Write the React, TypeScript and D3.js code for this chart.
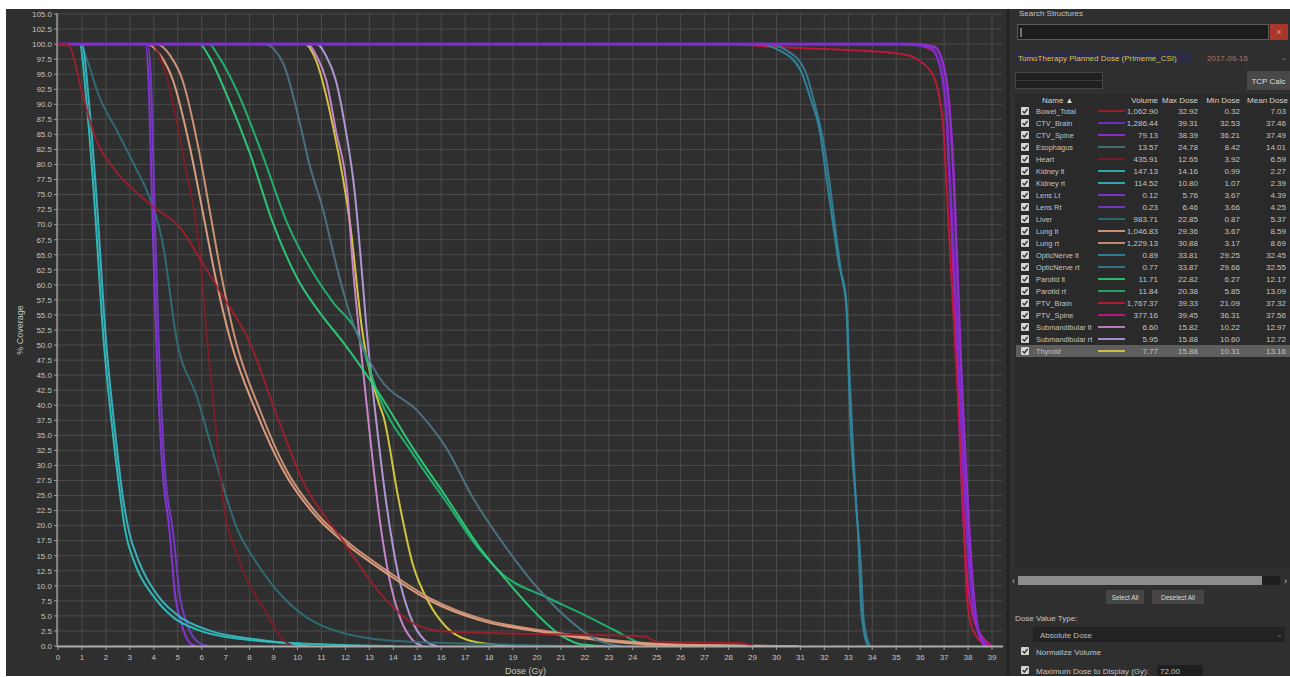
import React from 'react';
import * as d3 from 'd3';

type Pt = [number, number];

// Structure table (right panel)
const structureNames = [
  'Bowel_Total', 'CTV_Brain', 'CTV_Spine', 'Esophagus', 'Heart', 'Kidney lt', 'Kidney rt',
  'Lens Lt', 'Lens Rt', 'Liver', 'Lung lt', 'Lung rt', 'OpticNerve lt', 'OpticNerve rt',
  'Parotid lt', 'Parotid rt', 'PTV_Brain', 'PTV_Spine', 'Submandibular lt', 'Submandibular rt', 'Thyroid',
];
const structureColors = [
  '#a01e2a', '#7b2fd6', '#9a2bd8', '#4d7585', '#7e1c28', '#2ec4c0', '#3bb8c8',
  '#8a35e0', '#7a3ad0', '#2f6f7a', '#e8a584', '#d99a7a', '#2e8aa0', '#3a7f98',
  '#2ad07a', '#1fb870', '#c8163a', '#d0148c', '#d28ad8', '#b8a0e0', '#e0d040',
];
const volumes = ['1,062.90', '1,286.44', '79.13', '13.57', '435.91', '147.13', '114.52', '0.12', '0.23', '983.71', '1,046.83', '1,229.13', '0.89', '0.77', '11.71', '11.84', '1,767.37', '377.16', '6.60', '5.95', '7.77'];
const maxDoses = ['32.92', '39.31', '38.39', '24.78', '12.65', '14.16', '10.80', '5.76', '6.46', '22.85', '29.36', '30.88', '33.81', '33.87', '22.82', '20.38', '39.33', '39.45', '15.82', '15.88', '15.88'];
const minDoses = ['0.32', '32.53', '36.21', '8.42', '3.92', '0.99', '1.07', '3.67', '3.66', '0.87', '3.67', '3.17', '29.25', '29.66', '6.27', '5.85', '21.09', '36.31', '10.22', '10.60', '10.31'];
const meanDoses = ['7.03', '37.46', '37.49', '14.01', '6.59', '2.27', '2.39', '4.39', '4.25', '5.37', '8.59', '8.69', '32.45', '32.55', '12.17', '13.09', '37.32', '37.56', '12.97', '12.72', '13.16'];

// DVH curves: [dose Gy, % coverage]
const bowelTotal: Pt[] = [[0, 100], [0.3, 100], [0.5, 99.5], [1.0, 92], [1.6, 84], [2.4, 79], [3.8, 73.5], [5.2, 69], [5.9, 64.5], [6.9, 58], [8.0, 50.5], [9.1, 38.7], [10.2, 27.6], [11.8, 18], [13.6, 8.1], [14.8, 3.8], [16.2, 2.4], [20, 2.0], [24.5, 1.6], [25.0, 0.7], [28.5, 0.5], [29, 0]];
const ctvBrain: Pt[] = [[0, 100], [35.3, 100], [36.4, 99.5], [36.8, 96.8], [37.1, 88.5], [37.2, 80], [37.35, 69], [37.6, 47], [37.8, 30.4], [37.95, 19.3], [38.1, 11], [38.35, 3.8], [38.8, 0]];
const ctvSpine: Pt[] = [[0, 100], [35.8, 100], [36.6, 99.5], [37.0, 96], [37.25, 88], [37.4, 78], [37.5, 68], [37.7, 47], [37.9, 30], [38.05, 19], [38.2, 10], [38.4, 3], [38.7, 0]];
const esophagus: Pt[] = [[0, 100], [8.6, 100], [9.4, 96.8], [10.0, 88.5], [10.5, 80], [11.1, 72], [11.6, 63.6], [12.2, 55], [12.8, 49], [13.4, 44.7], [15.1, 38.7], [16.2, 33], [17.3, 24.8], [18.7, 16.4], [20.1, 9.3], [21.5, 3.8], [22.5, 1], [23.5, 0]];
const heart: Pt[] = [[0, 100], [3.9, 100], [4.5, 95], [5.3, 80], [5.9, 66], [6.2, 52], [6.6, 36], [6.9, 24], [7.5, 15], [8.7, 5.5], [9.4, 1], [9.8, 0]];
const kidneyLt: Pt[] = [[0, 100], [0.9, 100], [1.2, 90], [1.5, 75], [1.9, 51], [2.3, 35], [2.6, 25], [2.8, 19.3], [3.2, 13.8], [4.0, 8.2], [4.8, 4.8], [5.9, 2.6], [8.0, 1], [11, 0.3], [14, 0]];
const kidneyRt: Pt[] = [[0, 100], [1.0, 100], [1.3, 90], [1.6, 75], [2.0, 51], [2.4, 35], [2.7, 25], [2.95, 19.3], [3.4, 13.8], [4.2, 8.2], [5.1, 4.8], [6.3, 2.6], [8.5, 1], [10.5, 0]];
const lensLt: Pt[] = [[0, 100], [3.65, 100], [3.8, 92], [3.95, 70], [4.1, 51], [4.35, 30], [4.65, 19.3], [4.9, 8.1], [5.15, 3.8], [5.5, 0.5], [5.76, 0]];
const lensRt: Pt[] = [[0, 100], [3.75, 100], [3.9, 92], [4.05, 70], [4.2, 51], [4.45, 30], [4.8, 19], [5.1, 8], [5.4, 3.5], [5.9, 0.5], [6.3, 0]];
const liver: Pt[] = [[0, 100], [0.9, 100], [1.05, 99], [1.75, 91], [2.45, 85.7], [3.3, 79], [3.7, 75.7], [4.4, 66.3], [4.95, 51], [5.8, 41.4], [6.6, 30.4], [7.5, 19.3], [8.3, 13.8], [9.4, 8.1], [10.8, 3.8], [13.6, 1], [17, 0.4], [22, 0]];
const lungLt: Pt[] = [[0, 100], [3.7, 100], [4.3, 98], [4.8, 94], [5.5, 83], [6.05, 72], [6.6, 60.8], [7.2, 50.8], [8.3, 38.7], [9.4, 29.2], [10.8, 21.4], [12.2, 16.4], [13.6, 12.4], [15.5, 7.6], [17.6, 4.3], [20.4, 2.2], [23.2, 0.7], [25, 0.2], [29.4, 0]];
const lungRt: Pt[] = [[0, 100], [4.1, 100], [4.7, 98], [5.2, 94], [5.85, 83], [6.35, 72], [6.85, 61], [7.4, 51], [8.45, 39], [9.5, 29.5], [10.9, 21.6], [12.3, 16.6], [13.7, 12.6], [15.6, 7.8], [17.7, 4.5], [20.5, 2.4], [23.3, 0.9], [25.5, 0.3], [30.9, 0]];
const opticNerveLt: Pt[] = [[0, 100], [29.2, 100], [30.1, 99], [31.0, 95.7], [31.4, 91.2], [31.8, 85.7], [32.1, 77.4], [32.4, 69], [32.6, 63.6], [32.9, 58], [33.0, 47], [33.1, 35.9], [33.3, 24.8], [33.4, 19.3], [33.55, 5.5], [33.8, 0]];
const opticNerveRt: Pt[] = [[0, 100], [29.6, 100], [30.4, 99], [31.2, 95.5], [31.6, 90], [31.95, 84], [32.25, 76], [32.5, 68], [32.7, 62], [32.95, 55], [33.05, 45], [33.2, 33], [33.35, 22], [33.5, 15], [33.65, 4], [33.9, 0]];
const parotidLt: Pt[] = [[0, 100], [5.9, 100], [6.3, 98], [7.0, 92], [8.0, 82], [9.0, 70], [10.0, 61], [11.0, 55], [11.9, 50.5], [13.4, 42], [14.8, 33], [16.2, 24.8], [17.6, 16.4], [18.6, 11.5], [19.7, 6.5], [21.1, 1.5], [21.8, 0.3], [22.8, 0]];
const parotidRt: Pt[] = [[0, 100], [6.3, 100], [6.7, 98], [7.5, 92], [8.5, 82], [9.6, 70], [10.5, 63], [11.5, 57], [12.5, 52], [13.4, 41.4], [14.8, 32], [16.2, 24], [17.6, 16], [18.6, 11.8], [20.4, 8.1], [21.8, 5.5], [23.2, 2.7], [24.3, 0.5], [24.8, 0]];
const ptvBrain: Pt[] = [[0, 100], [28, 100], [30, 99.5], [33, 99], [35.3, 98.3], [36.4, 95.7], [36.8, 91.2], [36.95, 86.9], [37.2, 69], [37.5, 47], [37.8, 24.8], [37.95, 8.1], [38.2, 2.7], [38.8, 0]];
const ptvSpine: Pt[] = [[0, 100], [35.5, 100], [36.5, 99], [36.9, 95], [37.15, 85], [37.35, 65], [37.55, 45], [37.75, 25], [37.95, 12], [38.2, 5], [38.6, 1.5], [39.0, 0]];
const submandLt: Pt[] = [[0, 100], [10.4, 100], [10.8, 98], [11.2, 94], [11.6, 85.7], [12.1, 74.6], [12.3, 63.6], [12.6, 51], [13.0, 35.9], [13.4, 22], [13.9, 10], [14.3, 4.5], [14.8, 1], [15.2, 0]];
const submandRt: Pt[] = [[0, 100], [10.8, 100], [11.2, 98], [11.6, 94], [12.0, 86], [12.4, 75], [12.65, 64], [12.9, 52], [13.3, 37], [13.7, 24], [14.2, 12], [14.7, 5], [15.3, 1], [15.8, 0]];
const thyroid: Pt[] = [[0, 100], [10.3, 100], [10.7, 98], [11.5, 86], [12.2, 70], [12.7, 52.5], [13.4, 40.3], [13.6, 38], [14.2, 24.8], [14.8, 13.8], [15.5, 7.1], [16.2, 3.2], [17.1, 1], [18.3, 0.2], [19, 0]];

const curves = [bowelTotal, ctvBrain, ctvSpine, esophagus, heart, kidneyLt, kidneyRt, lensLt, lensRt, liver, lungLt, lungRt, opticNerveLt, opticNerveRt, parotidLt, parotidRt, ptvBrain, ptvSpine, submandLt, submandRt, thyroid];

const xTicks = d3.range(0, 40, 1);
const yTicks = d3.range(0, 105.1, 2.5);

const FONT = '"Liberation Sans", Arial, sans-serif';
const TXT = '#c4c4c4';

const Check = ({ x, y }: { x: number; y: number }) => (
  <g>
    <rect x={x} y={y} width={8} height={8} fill="#d4d4d4" rx={1} />
    <path d={`M${x + 1.6},${y + 4.2} L${x + 3.4},${y + 6} L${x + 6.6},${y + 2}`} stroke="#333" strokeWidth={1.4} fill="none" />
  </g>
);

export default function App() {
  const x = d3.scaleLinear().domain([0, 39.4]).range([58, 1001.6]);
  const y = d3.scaleLinear().domain([0, 105]).range([646, 14]);
  const line = d3.line<Pt>().x(d => x(d[0])).y(d => y(d[1])).curve(d3.curveMonotoneX);

  const rowY = (i: number) => 111 + i * 12;
  const drawOrder = d3.range(curves.length).reverse();

  return (
    <svg width={1290} height={677} style={{ position: 'absolute', left: 0, top: 0 }} fontFamily={FONT}>
      <defs>
        <filter id="soft" x="-2%" y="-2%" width="104%" height="104%">
          <feGaussianBlur stdDeviation="0.45" />
        </filter>
      </defs>
      <rect width={1290} height={677} fill="#fff" />
      <rect x={6} y={9} width={1284} height={667} fill="#2f2f2f" />

      {/* grid */}
      <g>
        {yTicks.map(t => (
          <line key={'gy' + t} x1={58} x2={1002} y1={y(t)} y2={y(t)} stroke="#4c4c4c" strokeWidth={1} />
        ))}
        {xTicks.map(t => (
          <line key={'gx' + t} x1={x(t)} x2={x(t)} y1={14} y2={646} stroke="#4c4c4c" strokeWidth={1} />
        ))}
      </g>

      {/* curves */}
      <g fill="none" strokeLinejoin="round" strokeLinecap="round" filter="url(#soft)">
        {drawOrder.map(i => (
          <path key={structureNames[i]} d={line(curves[i]) || ''} stroke={structureColors[i]}
            strokeWidth={i === 1 || i === 2 ? 2.6 : 2} strokeOpacity={0.92} />
        ))}
      </g>

      {/* axes */}
      <line x1={57} x2={57} y1={13} y2={647} stroke="#9a9a9a" strokeWidth={1.5} />
      <line x1={57} x2={1003} y1={646.5} y2={646.5} stroke="#aaaaaa" strokeWidth={2} />
      <g fontSize={8} fill={TXT}>
        {yTicks.map(t => (
          <g key={'ty' + t}>
            <line x1={54} x2={57} y1={y(t)} y2={y(t)} stroke="#9a9a9a" />
            <text x={52} y={y(t) + 2.8} textAnchor="end">{t.toFixed(1)}</text>
          </g>
        ))}
        {xTicks.map(t => (
          <g key={'tx' + t}>
            <line x1={x(t)} x2={x(t)} y1={647} y2={650} stroke="#9a9a9a" />
            <text x={x(t)} y={660} textAnchor="middle">{t}</text>
          </g>
        ))}
      </g>
      <text transform="translate(23,330) rotate(-90)" textAnchor="middle" fontSize={9} fill={TXT}>% Coverage</text>
      <text x={505} y={674} fontSize={9} fill={TXT}>Dose (Gy)</text>

      {/* panel separator */}
      <line x1={1008} x2={1008} y1={9} y2={676} stroke="#232323" strokeWidth={3} />

      {/* right panel */}
      <g fontSize={8} fill={TXT}>
        <text x={1019} y={16}>Search Structures</text>
        <rect x={1017.5} y={24.5} width={251} height={15} fill="#1c1c1c" stroke="#5a5a5a" />
        <line x1={1021} x2={1021} y1={28} y2={37} stroke="#ccc" />
        <rect x={1270} y={24} width={18} height={16} fill="#a8382c" />
        <text x={1279} y={35} textAnchor="middle" fill="#e0a090" fontSize={9}>×</text>

        <rect x={1016} y={52} width={176} height={12} fill="#2c2d45" />
        <text x={1018} y={61} fill="#dcc448">TomoTherapy Planned Dose (Primeme_CSI)</text>
        <text x={1207} y={61} fill="#a87868">2017-06-16</text>
        <text x={1281} y={60} fill="#777" fontSize={8}>⌄</text>

        <rect x={1015.5} y={72.5} width={87} height={16} fill="#1f1f1f" stroke="#454545" />
        <line x1={1016} x2={1102} y1={80.5} y2={80.5} stroke="#3c3c3c" />
        <rect x={1247} y={71} width={43} height={19} fill="#484848" />
        <text x={1268.5} y={83.5} textAnchor="middle" fill="#ddd">TCP Calc</text>

        <rect x={1015} y={94} width={275} height={474} fill="#2a2a2a" />
        <rect x={1016} y={345} width={274} height={12} fill="#5e5e5e" />
        <g fill="#d4d4d4">
          <text x={1042} y={103}>Name ▲</text>
          <text x={1158} y={103} textAnchor="end">Volume</text>
          <text x={1198} y={103} textAnchor="end">Max Dose</text>
          <text x={1240} y={103} textAnchor="end">Min Dose</text>
          <text x={1288} y={103} textAnchor="end">Mean Dose</text>
        </g>
        {structureNames.map((name, i) => {
          const cy = rowY(i);
          return (
            <g key={'row' + name}>
              <Check x={1021} y={cy - 4} />
              <text x={1036} y={cy + 2.8} fontSize={7.4}>{name}</text>
              <line x1={1098} x2={1125} y1={cy} y2={cy} stroke={structureColors[i]} strokeWidth={2} strokeOpacity={0.85} />
              <text x={1158} y={cy + 2.8} textAnchor="end">{volumes[i]}</text>
              <text x={1198} y={cy + 2.8} textAnchor="end">{maxDoses[i]}</text>
              <text x={1240} y={cy + 2.8} textAnchor="end">{minDoses[i]}</text>
              <text x={1286} y={cy + 2.8} textAnchor="end">{meanDoses[i]}</text>
            </g>
          );
        })}

        <rect x={1018} y={576} width={244} height={9} fill="#8c8c8c" />
        <rect x={1262} y={576} width={18} height={9} fill="#1f1f1f" />
        <text x={1012} y={584} fill="#ccc" fontSize={9}>‹</text>
        <text x={1284} y={584} fill="#ccc" fontSize={9}>›</text>

        <rect x={1106} y={590} width={38} height={14} fill="#454545" />
        <text x={1125} y={600} textAnchor="middle" fill="#ddd" fontSize={6.5}>Select All</text>
        <rect x={1152} y={590} width={52} height={14} fill="#454545" />
        <text x={1178} y={600} textAnchor="middle" fill="#ddd" fontSize={6.5}>Deselect All</text>

        <text x={1015} y={621}>Dose Value Type:</text>
        <rect x={1033} y={627} width={252} height={15} fill="#232323" />
        <text x={1040} y={638} fill="#bbb">Absolute Dose</text>
        <text x={1276} y={637} fill="#666" fontSize={8}>⌄</text>

        <Check x={1021} y={647} />
        <text x={1036} y={654.5}>Normalize Volume</text>
        <Check x={1021} y={666} />
        <text x={1036} y={673.5}>Maximum Dose to Display (Gy):</text>
        <rect x={1157} y={665} width={46} height={11} fill="#1f1f1f" />
        <text x={1160} y={673.5}>72.00</text>
      </g>
    </svg>
  );
}
